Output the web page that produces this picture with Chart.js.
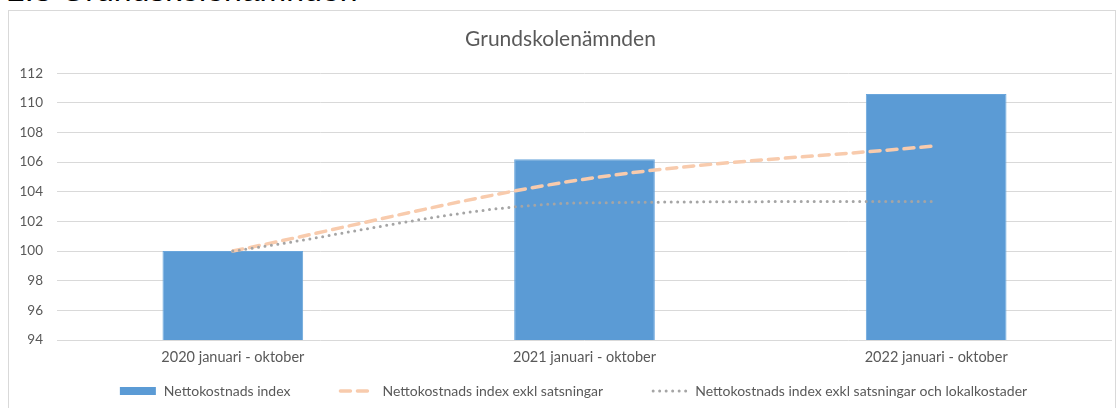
<!DOCTYPE html>
<html lang="sv">

<head>
	<title>Grundskolenämnden</title>
	<meta charset="utf-8">
	<script src="https://cdn.jsdelivr.net/npm/chart.js"></script>
	<style>
		html, body { margin: 0; padding: 0; background: #fff; overflow: hidden; }
		#heading {
			position: absolute; left: 7px; top: -26px; margin: 0;
			font: 32px "Liberation Sans", Arial, sans-serif; line-height: 1; color: #000; white-space: nowrap;
		}
		#box {
			position: absolute; left: 8px; top: 10px; width: 1106px; height: 420px;
			border: 1px solid #d9d9d9; background: #fff;
		}
		#box canvas { display: block; }
	</style>
</head>

<body>
	<h2 id="heading">2.3 Grundskolenämnden</h2>
	<div id="box"><canvas id="chart" width="1106" height="420"></canvas></div>

	<script type="text/javascript">

		const categories = ["2020 januari - oktober", "2021 januari - oktober", "2022 januari - oktober"]
		const nettoIndex = [100, 106.2, 110.6]
		const exklSatsningar = [100, 104.85, 107.1]
		const exklLokal = [100, 103.25, 103.35]
		const seriesNames = ["Nettokostnads index", "Nettokostnads index exkl satsningar", "Nettokostnads index exkl satsningar och lokalkostader"]

		const textColor = '#595959'
		const fontFamily = 'Lato, "Liberation Sans", sans-serif'

		// legend drawn by hand so the gaps between the items can be wider than the row height
		const bottomLegend = {
			id: 'bottomLegend',
			afterDraw(chart) {
				const ctx = chart.ctx
				const sample = 38, gap = 6, spacing = 48
				ctx.save()
				ctx.font = '14px ' + fontFamily
				let total = 0
				chart.data.datasets.forEach(ds => {
					total += sample + gap + ctx.measureText(ds.label).width
				})
				total += spacing * (chart.data.datasets.length - 1)
				let x = (chart.chartArea.left + chart.chartArea.right) / 2 - 11 - total / 2
				const y = chart.chartArea.bottom + 51
				chart.data.datasets.forEach(ds => {
					if (ds.type === 'bar') {
						ctx.fillStyle = ds.backgroundColor
						ctx.fillRect(x, y - 4, 36, 8)
					} else {
						ctx.strokeStyle = ds.borderColor
						ctx.lineWidth = ds.borderWidth
						ctx.lineCap = ds.borderCapStyle
						ctx.setLineDash(ds.borderDash)
						ctx.beginPath()
						ctx.moveTo(x + 2, y)
						ctx.lineTo(x + sample - 2, y)
						ctx.stroke()
						ctx.setLineDash([])
					}
					x += sample + gap
					ctx.fillStyle = textColor
					ctx.textBaseline = 'middle'
					ctx.fillText(ds.label, x, y)
					x += ctx.measureText(ds.label).width + spacing
				})
				ctx.restore()
			}
		}

		new Chart(document.getElementById('chart'), {
			type: 'bar',
			data: {
				labels: categories,
				datasets: [
					{
						type: 'bar',
						label: seriesNames[0],
						data: nettoIndex,
						backgroundColor: '#5b9bd5',
						borderColor: '#6aa6dc',
						borderWidth: 1,
						categoryPercentage: 1,
						barPercentage: 0.4,
						order: 2
					},
					{
						type: 'line',
						label: seriesNames[1],
						data: exklSatsningar,
						borderColor: '#f8cbad',
						borderWidth: 3.5,
						borderDash: [10, 7],
						borderCapStyle: 'round',
						cubicInterpolationMode: 'monotone',
						pointRadius: 0,
						order: 1
					},
					{
						type: 'line',
						label: seriesNames[2],
						data: exklLokal,
						borderColor: '#a5a5a5',
						borderWidth: 3,
						borderDash: [0, 6.5],
						borderCapStyle: 'round',
						cubicInterpolationMode: 'monotone',
						pointRadius: 0,
						order: 0
					}
				]
			},
			options: {
				responsive: false,
				animation: false,
				layout: { padding: { top: 0, right: 3, bottom: 65, left: 0 } },
				plugins: {
					legend: { display: false },
					tooltip: { enabled: false },
					title: {
						display: true,
						text: 'Grundskolenämnden',
						color: textColor,
						font: { family: fontFamily, size: 21, weight: 'normal' },
						padding: { top: 16, bottom: 21, left: 12 }
					}
				},
				scales: {
					x: {
						grid: { display: false, drawTicks: false },
						border: { display: false },
						ticks: { color: textColor, font: { family: fontFamily, size: 14.5 }, padding: 9 },
						afterFit: s => { s.height = 26 }
					},
					y: {
						min: 94,
						max: 112,
						grid: { color: '#d9d9d9', lineWidth: 1, drawTicks: false },
						border: { display: false },
						ticks: { stepSize: 2, color: textColor, font: { family: fontFamily, size: 13.5 }, padding: 14 },
						afterFit: s => { s.width = 48 }
					}
				}
			},
			plugins: [bottomLegend]
		})
	</script>
</body>

</html>
